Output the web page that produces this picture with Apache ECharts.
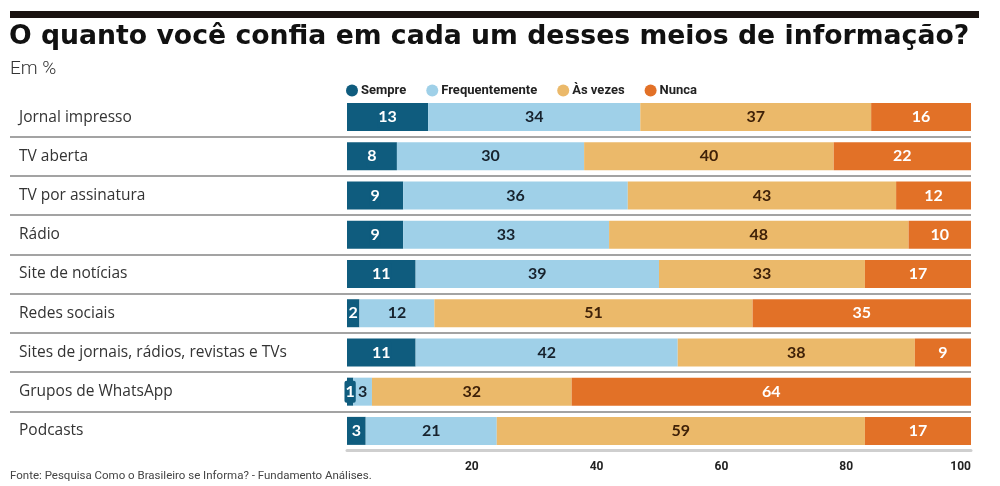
<!DOCTYPE html>
<html>
<head>
<meta charset="utf-8">
<script src="https://cdn.jsdelivr.net/npm/echarts@6/dist/echarts.min.js"></script>
<style>html,body{margin:0;padding:0;background:#fff}#c{width:1000px;height:486px}</style>
</head>
<body>
<div id="c"></div>
<script>
const categories = ["Jornal impresso","TV aberta","TV por assinatura","Rádio","Site de notícias","Redes sociais","Sites de jornais, rádios, revistas e TVs","Grupos de WhatsApp","Podcasts"];
const sempre = [13, 8, 9, 9, 11, 2, 11, 1, 3];
const frequentemente = [34, 30, 36, 33, 39, 12, 42, 3, 21];
const asVezes = [37, 40, 43, 48, 33, 51, 38, 32, 59];
const nunca = [16, 22, 12, 10, 17, 35, 9, 64, 17];
const seriesNames = ["Sempre","Frequentemente","Às vezes","Nunca"];
const xTicks = [0, 20, 40, 60, 80, 100];

const colors = ["#0f5c7e", "#9fd0e8", "#ebb96a", "#e27127"];
const labelColors = ["#ffffff", "#17222d", "#3f2108", "#ffffff"];
const values = [sempre, frequentemente, asVezes, nunca];

const chart = echarts.init(document.getElementById('c'), null, {renderer: 'canvas'});

const series = seriesNames.map((name, i) => ({
  name: name,
  type: 'bar',
  stack: 'total',
  xAxisIndex: 0,
  yAxisIndex: 0,
  barWidth: 28,
  data: values[i],
  itemStyle: {color: colors[i]},
  label: {
    show: true,
    position: 'inside',
    color: labelColors[i],
    fontFamily: 'Lato',
    fontWeight: 'bold',
    fontSize: 16,
    backgroundColor: i === 0 ? colors[0] : 'transparent',
    padding: i === 0 ? [3, 1, 3, 1] : 0,
    borderRadius: i === 0 ? 2 : 0
  }
}));

chart.setOption({
  animation: false,
  color: colors,
  graphic: [{
    type: 'rect',
    shape: {x: 10, y: 11, width: 969, height: 7},
    style: {fill: '#1a1210'}
  }],
  title: [
    {text: 'O quanto você confia em cada um desses meios de informação?', left: 9, top: 24, padding: 0,
     textStyle: {fontFamily: 'DejaVu Sans', fontWeight: 'bold', fontSize: 26.7, color: '#111'}},
    {text: 'Em %', left: 10, top: 60, padding: 0,
     textStyle: {fontFamily: 'Roboto', fontWeight: 300, fontSize: 19, color: '#333'}},
    {text: 'Fonte: Pesquisa Como o Brasileiro se Informa? - Fundamento Análises.', left: 10, top: 470, padding: 0,
     textStyle: {fontFamily: 'Roboto', fontWeight: 'normal', fontSize: 11.5, color: '#444'}}
  ],
  legend: {
    left: 346, top: 84, padding: 0,
    icon: 'circle', itemWidth: 12, itemHeight: 12, itemGap: 20,
    data: seriesNames,
    textStyle: {fontFamily: 'Roboto', fontWeight: 'bold', fontSize: 13, color: '#222', padding: [0, 0, 0, -2]}
  },
  grid: [
    {left: 347, right: 29, top: 97.5, bottom: 35.5, containLabel: false},
    {left: 10, right: 29, top: 97.5, bottom: 35.5, containLabel: false}
  ],
  xAxis: [
    {type: 'value', gridIndex: 0, min: xTicks[0], max: xTicks[xTicks.length - 1], interval: 20,
     axisLine: {show: true, lineStyle: {color: '#cfcfcf', width: 3}},
     axisTick: {show: false}, splitLine: {show: false},
     axisLabel: {showMinLabel: false, alignMaxLabel: 'right', margin: 10, color: '#222', fontFamily: 'Roboto', fontWeight: 'bold', fontSize: 12}},
    {type: 'value', gridIndex: 1, min: 0, max: 100, show: false}
  ],
  yAxis: [
    {type: 'category', gridIndex: 0, inverse: true, data: categories,
     axisLine: {show: false}, axisTick: {show: false}, splitLine: {show: false},
     axisLabel: {align: 'left', margin: 328, color: '#333', fontFamily: 'Open Sans', fontSize: 15.5}},
    {type: 'category', gridIndex: 1, inverse: true, data: categories,
     axisLine: {show: false}, axisTick: {show: false}, axisLabel: {show: false},
     splitLine: {show: true, showMinLine: false, showMaxLine: false, lineStyle: {color: '#858585', width: 1.5}}}
  ],
  series: series
});
</script>
</body>
</html>
